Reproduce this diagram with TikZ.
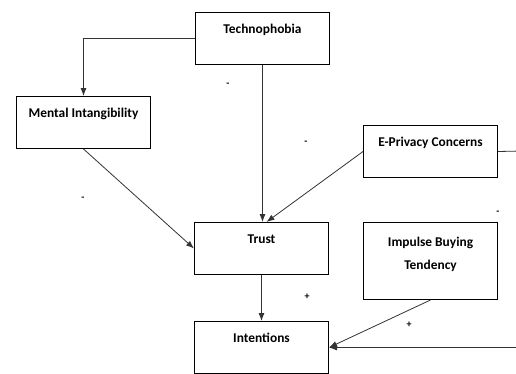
\documentclass[tikz,border=0pt]{standalone}
\usepackage{fontspec}
\setmainfont{Carlito}
\usepackage{tikz}
\usetikzlibrary{arrows.meta}
\usetikzlibrary{positioning}
\tikzset{
    factor/.style={
           rectangle,
           draw=black, line width=1pt,
           minimum width=134pt,
           inner sep=0pt,
           text height=21pt,
           text depth=31pt,
           align=center,
           anchor=north west,
           font=\fontsize{13.4}{23}\selectfont\bfseries,
           },
    link/.style={->, draw=black!80, line width=0.8pt},
    sign/.style={font=\fontsize{10}{10}\selectfont\bfseries, inner sep=0pt},
}
\begin{document}
\begin{tikzpicture}[x=1pt,y=-1pt,>={Latex[length=8pt,width=6pt]}]

 % page frame, same size as the reference
 \useasboundingbox (0,0) rectangle (516,373);

 % the six factors (anchored at their top left corner)
 \node[factor] (Technophobia) at (195,12) {Technophobia};
 \node[factor] (Mental) at (16,96) {Mental Intangibility};
 \node[factor] (Privacy) at (363,125) {E-Privacy Concerns};
 \node[factor] (Trust) at (194,222) {Trust};
 \node[factor,
  text height=47pt,   % two lines, baseline on the last one
  text depth=30pt] (Impulse) at (363,222) {Impulse Buying\\Tendency};
 \node[factor] (Intentions) at (194,321) {Intentions};

 % corner point for the long path on the right
 \coordinate (rightTop) at (522,151);

 % the paths
 \draw[link] (Technophobia.west) -| (Mental.north);
 \draw[link] (Technophobia.south) -- (Technophobia.south |- Trust.north);
 \draw[link] (Mental.south) -- (Trust.west);
 \draw[link] (Privacy.west) -- ([xshift=5pt]Trust.north);
 \draw[link] (Trust.south) -- (Trust.south |- Intentions.north);
 \draw[link] (Impulse.south) -- (Intentions.east);
 \draw[link] (Privacy.east) -- (rightTop) -- (rightTop |- Intentions.east) -- (Intentions.east);

 % signs of the paths
 \node[sign] (s1) at (228,85) {-};
 \node[sign] (s2) at (306,143) {-};
 \node[sign] (s3) at (83,199) {-};
 \node[sign] (s4) at (498,213) {-};
 \node[sign] (s5) at (307,297) {+};
 \node[sign] (s6) at (409,325) {+};

\end{tikzpicture}
\end{document}
